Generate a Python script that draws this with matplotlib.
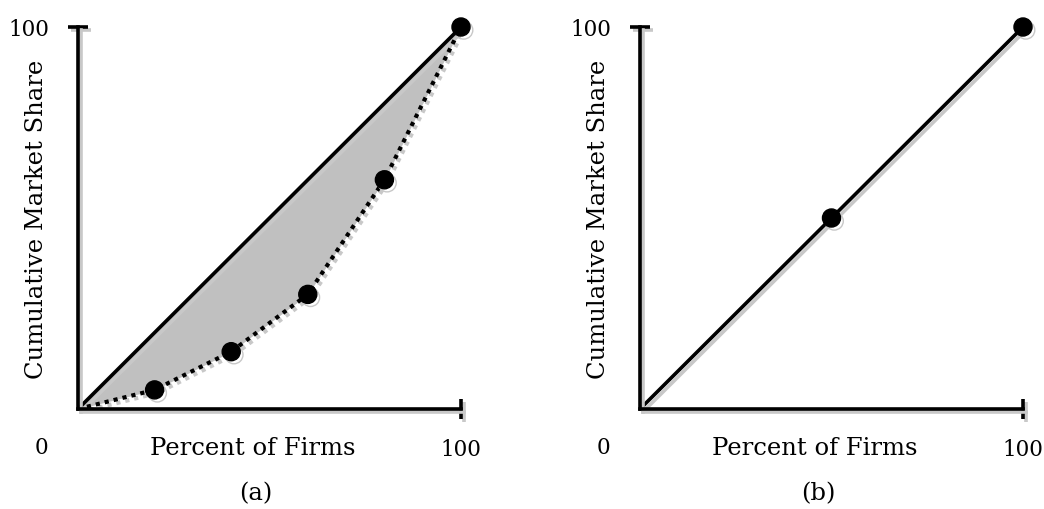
import numpy as np
import matplotlib
matplotlib.use("Agg")
import matplotlib.pyplot as plt
import matplotlib.patheffects as pe

plt.rcParams["font.family"] = ["DejaVu Serif"]

# panel (a): unequal shares
firms_a = [0, 20, 40, 60, 80, 100]
share_a = [0, 5, 15, 30, 60, 100]

# panel (b): equal shares
firms_b = [0, 50, 100]
share_b = [0, 50, 100]

equality = [0, 100]

panel_titles = ["(a)", "(b)"]
x_label = "Percent of Firms"
y_label = "Cumulative Market Share"
tick_labels = ["100"]

SHADOW = "#c8c8c8"
FONT = 17.5
TICK_FONT = 15.5
LW = 2.6


def shadow():
    return [pe.SimpleLineShadow(offset=(2.0, -2.2), shadow_color=SHADOW, alpha=1.0),
            pe.Normal()]


def style_axes(ax, title):
    ax.set_xlim(0, 100)
    ax.set_ylim(0, 100)
    for s in ["top", "right"]:
        ax.spines[s].set_visible(False)
    for s in ["left", "bottom"]:
        ax.spines[s].set_linewidth(LW)
        ax.spines[s].set_path_effects(shadow())
        ax.spines[s].set_zorder(5)
    ax.set_xticks([100])
    ax.set_yticks([100])
    ax.set_xticklabels(tick_labels)
    ax.set_yticklabels(tick_labels)
    ax.tick_params(direction="inout", length=14, width=LW, labelsize=TICK_FONT)
    ax.tick_params(axis="y", pad=14)
    ax.tick_params(axis="x", pad=14)
    for t in ax.get_xticklines() + ax.get_yticklines():
        t.set_path_effects(shadow())
    ax.text(-0.095, -0.1, "0", transform=ax.transAxes, fontsize=TICK_FONT,
            ha="center", va="center")
    ax.text(0.455, -0.1, x_label, transform=ax.transAxes, fontsize=FONT,
            ha="center", va="center")
    ax.text(-0.108, 0.5, y_label, transform=ax.transAxes, fontsize=FONT,
            ha="center", va="center", rotation=90)
    ax.text(0.465, -0.22, title, transform=ax.transAxes, fontsize=FONT,
            ha="center", va="center")


fig = plt.figure(figsize=(10.44, 5.10), dpi=100)
ax_a = fig.add_axes([78 / 1044, 100 / 510, 383 / 1044, 382 / 510])
ax_b = fig.add_axes([640 / 1044, 100 / 510, 383 / 1044, 382 / 510])

# (a) Lorenz curve with shaded gap
ax_a.fill_between(firms_a, share_a, np.interp(firms_a, equality, equality),
                  color="#c0c0c0", linewidth=0, zorder=1)
ax_a.plot(equality, equality, color="black", linewidth=LW, zorder=3,
          path_effects=shadow())
ax_a.plot(firms_a, share_a, color="black", linewidth=3.0, linestyle=(0, (1, 1.2)),
          zorder=3, path_effects=shadow())
ax_a.plot(firms_a[1:], share_a[1:], "o", color="black", markersize=13,
          zorder=6, clip_on=False, path_effects=shadow())
style_axes(ax_a, panel_titles[0])

# (b) line of equality
ax_b.plot(firms_b, share_b, color="black", linewidth=LW, zorder=3,
          path_effects=shadow())
ax_b.plot(firms_b[1:], share_b[1:], "o", color="black", markersize=13,
          zorder=6, clip_on=False, path_effects=shadow())
style_axes(ax_b, panel_titles[1])

fig.savefig("out.png", dpi=100)
